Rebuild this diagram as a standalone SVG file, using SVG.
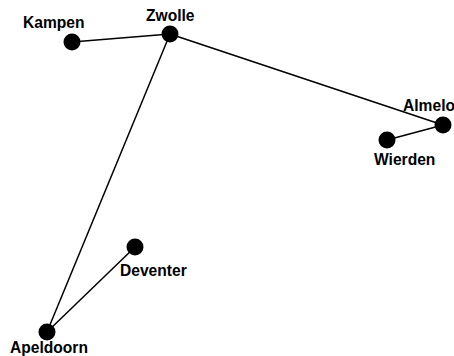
<svg xmlns="http://www.w3.org/2000/svg" width="454" height="356" viewBox="0 0 454 356">
<style>
.n{fill:#000}
.l{font-family:"Liberation Sans",Arial,sans-serif;font-weight:bold;font-size:15.6px;fill:#000}
.e{stroke:#000;stroke-width:1.5;fill:none}
</style>
<rect width="454" height="356" fill="#fff"/>
<g id="connectors">
<line class="e" x1="72" y1="42" x2="170" y2="34"/>
<line class="e" x1="170" y1="34" x2="443" y2="125"/>
<line class="e" x1="443" y1="125" x2="387" y2="140"/>
<line class="e" x1="170" y1="34" x2="47" y2="332"/>
<line class="e" x1="47" y1="332" x2="135" y2="247"/>
</g>
<g id="Kampen"><circle class="n" cx="72" cy="42" r="8.5"/><text class="l" x="23" y="28">Kampen</text></g>
<g id="Zwolle"><circle class="n" cx="170" cy="34" r="8.5"/><text class="l" x="146" y="21">Zwolle</text></g>
<g id="Almelo"><circle class="n" cx="443" cy="125" r="8.5"/><text class="l" x="403" y="111">Almelo</text></g>
<g id="Wierden"><circle class="n" cx="387" cy="140" r="8.5"/><text class="l" x="374" y="165">Wierden</text></g>
<g id="Deventer"><circle class="n" cx="135" cy="247" r="8.5"/><text class="l" x="120" y="276">Deventer</text></g>
<g id="Apeldoorn"><circle class="n" cx="47" cy="332" r="8.5"/><text class="l" x="10" y="353">Apeldoorn</text></g>
</svg>
